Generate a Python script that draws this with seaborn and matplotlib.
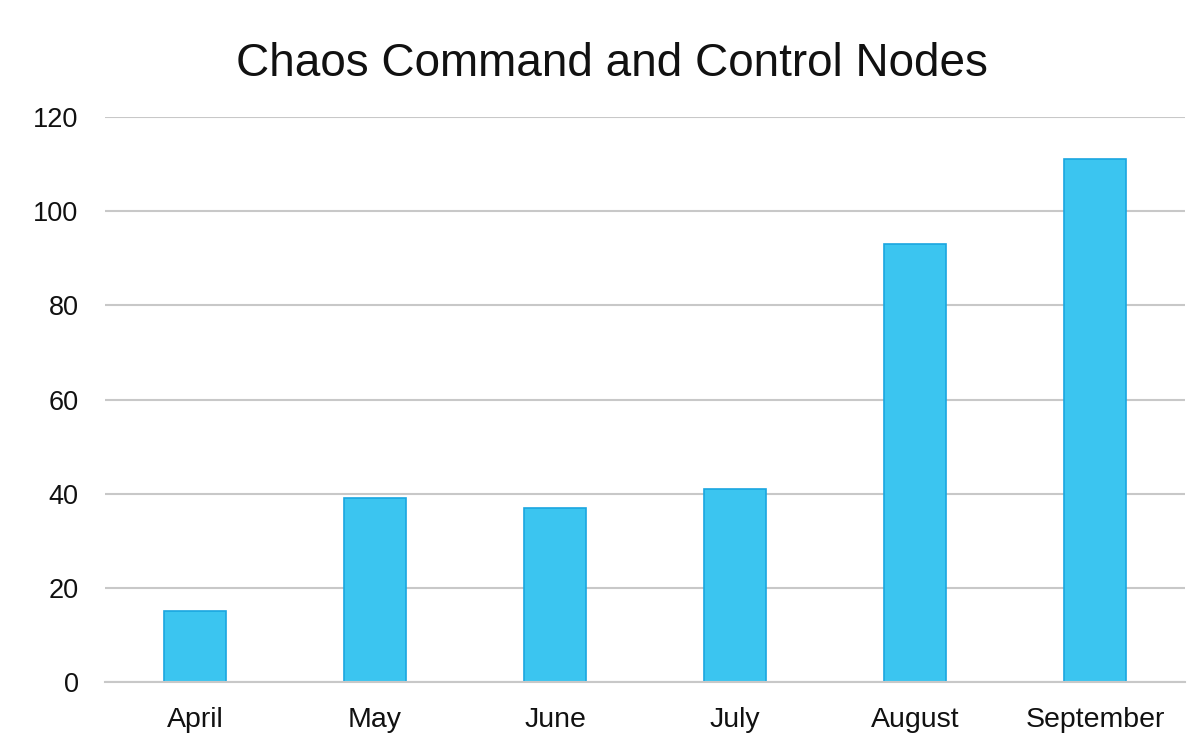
import pandas as pd
import matplotlib.pyplot as plt
import seaborn as sns

# Data
months = ["April", "May", "June", "July", "August", "September"]
nodes = [15, 39, 37, 41, 93, 111]

df = pd.DataFrame({"Month": months, "Nodes": nodes})

sns.set_style("white")
plt.rcParams["font.family"] = ["Liberation Sans", "DejaVu Sans"]

fig = plt.figure(figsize=(12, 7.54), dpi=100)
ax = fig.add_axes([0.0875, 0.0955, 0.9, 0.7493])

sns.barplot(data=df, x="Month", y="Nodes", color="#3BC5F0", edgecolor="#1AA6E0",
            linewidth=1.2, width=0.34, saturation=1, ax=ax)

ax.set_ylim(0, 120)
ax.set_xlim(-0.5, 5.5)
ax.set_yticks(range(0, 121, 20))
ax.yaxis.grid(True, color="#C8C8C8", linewidth=1.5)
ax.set_axisbelow(True)
for s in ["top", "right", "left"]:
    ax.spines[s].set_visible(False)
ax.spines["bottom"].set_color("#C8C8C8")
ax.spines["bottom"].set_linewidth(1.5)
ax.tick_params(axis="both", length=0, colors="#111111")
ax.tick_params(axis="x", pad=18, labelsize=20.5)
ax.tick_params(axis="y", pad=19, labelsize=19.5)
ax.set_xlabel("")
ax.set_ylabel("")

fig.text(0.51, 0.915, "Chaos Command and Control Nodes", ha="center", va="center",
         fontsize=33, color="#111111")

plt.savefig("out.png", dpi=100)
plt.close()
